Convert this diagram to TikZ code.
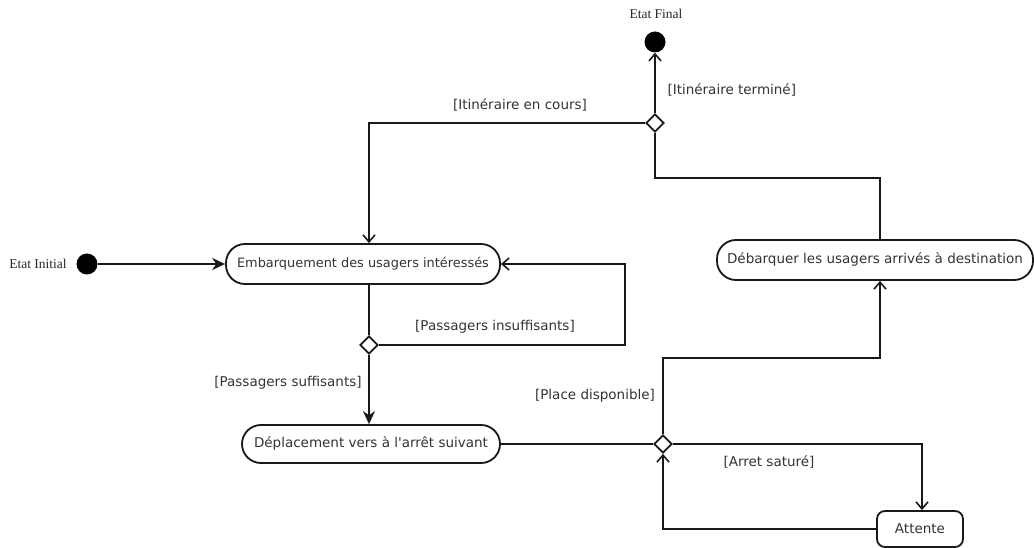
\documentclass[tikz,border=0pt]{standalone}
\usepackage{fontspec}
\setmainfont{DejaVu Sans}
\newfontfamily\serifsmall{Liberation Serif}
\usetikzlibrary{arrows.meta,shapes.geometric,calc}
\begin{document}
\begin{tikzpicture}[x=1pt,y=-1pt,
  every node/.style={font=\fontsize{13.5}{15}\selectfont, text=black!80},
  line/.style={draw=black!90, line width=1.8pt},
  openarr/.style={line, -{Straight Barb[length=7pt,width=12pt,line width=1.6pt]}},
  fillarr/.style={line, -{Stealth[length=13pt,width=12pt]}},
  activity/.style={draw=black!90, line width=1.8pt, rectangle, rounded corners=19pt, fill=white, inner sep=0pt},
  decision/.style={draw=black!90, line width=1.8pt, diamond, fill=white, minimum width=18pt, minimum height=18pt, inner sep=0pt},
  dot/.style={circle, fill=black, minimum size=21pt, inner sep=0pt},
  guard/.style={font=\fontsize{13.5}{15}\selectfont},
  statelbl/.style={font=\serifsmall\fontsize{13.5}{15}\selectfont, text=black!85}]
\useasboundingbox (0,0) rectangle (1034,548);

% states
\node[dot] (finalC) at (655,42) {};
\node[statelbl] (finalL) at (656,14) {Etat Final};
\node[dot] (initC) at (87,264) {};
\node[statelbl] (initL) at (38,264) {Etat Initial};

\node[activity, minimum width=274pt, minimum height=40pt, font=\fontsize{12.9}{15}\selectfont] (emb) at (363,264) {Embarquement des usagers intéressés};
\node[activity, minimum width=258pt, minimum height=38pt] (dep) at (371,444) {Déplacement vers à l\textquotesingle arrêt suivant};
\node[activity, minimum width=316pt, minimum height=40pt] (deb) at (875,260) {Débarquer les usagers arrivés à destination};
\node[activity, rounded corners=8pt, minimum width=86pt, minimum height=36pt] (att) at (920,529) {Attente};

\node[decision] (d1) at (655,123) {};
\node[decision] (d2) at (369,345) {};
\node[decision] (d3) at (663,444) {};

\coordinate (c1) at (625,264);
\coordinate (c2) at (655,178);
\coordinate (c3) at (880,358);

% connectors
\draw[fillarr] (initC) -- (emb.west);
\draw[openarr] (d1.north) -- (finalC.south);
\draw[openarr] (d1.west) -| ([xshift=6pt]emb.north);
\draw[line] ([xshift=5pt]deb.north) |- (c2) -- (d1.south);
\draw[line] (d2.north |- emb.south) -- (d2.north);
\draw[openarr] (d2.east) -| (c1) -- (emb.east);
\draw[fillarr] (d2.south) -- (d2.south |- dep.north);
\draw[line] (dep.east) -- (d3.west);
\draw[openarr] (d3.north) |- (c3) -- (c3 |- deb.south);
\draw[openarr] (d3.east) -| ([xshift=2pt]att.north);
\draw[openarr] (att.west) -| (d3.south);

% guards
\node[guard, anchor=west] (g1) at (664,90) {[Itinéraire terminé]};
\node[guard] (g2) at (520,105) {[Itinéraire en cours]};
\node[guard] (g3) at (495,327) {[Passagers insuffisants]};
\node[guard] (g4) at (288,383) {[Passagers suffisants]};
\node[guard] (g5) at (595,396) {[Place disponible]};
\node[guard] (g6) at (769,462) {[Arret saturé]};
\end{tikzpicture}
\end{document}
